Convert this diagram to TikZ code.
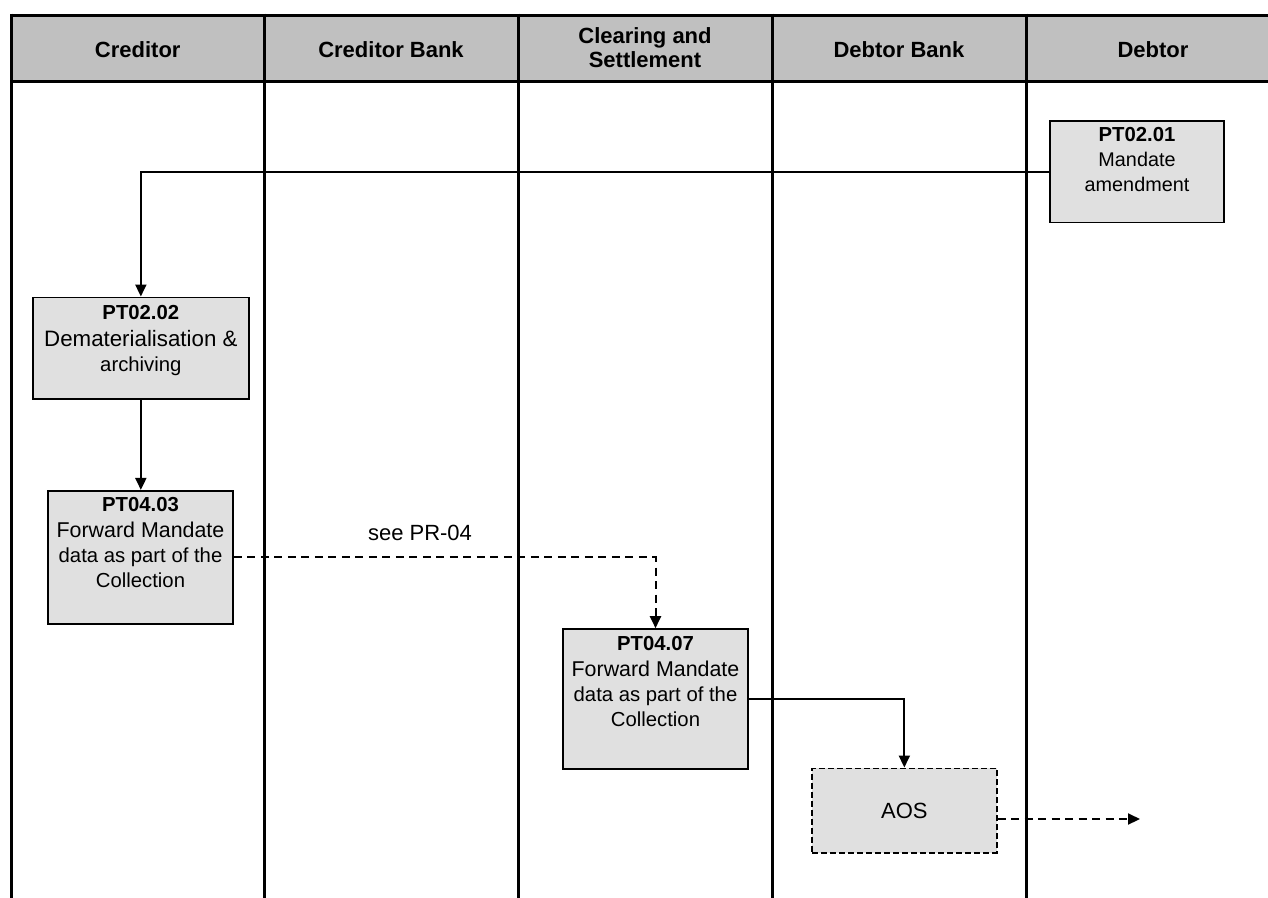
\documentclass[tikz,border=0pt]{standalone}
\usepackage{fontspec}
\setmainfont{Liberation Sans}
\usetikzlibrary{arrows.meta}
\definecolor{hdrgray}{HTML}{C0C0C0}
\definecolor{boxgray}{HTML}{E0E0E0}
\tikzset{
  lane/.style={line width=3pt},
  hdrtext/.style={font=\fontsize{22}{24}\selectfont\bfseries, align=center, inner sep=0pt},
  stepbox/.style={draw, fill=boxgray, line width=1.6pt, rectangle, inner sep=0pt},
  boxtext/.style={anchor=north, inner sep=0pt, align=center, font=\fontsize{20.3}{25}\selectfont},
  arr/.style={line width=2pt, -{Triangle[length=12pt,width=11pt]}},
  dasharr/.style={arr, dash pattern=on 8pt off 5.5pt},
}
\begin{document}
\begin{tikzpicture}[x=1pt,y=-1pt]
\useasboundingbox (0,0) rectangle (1268,897);
\clip (0,0) rectangle (1268,897);
% header
\fill[hdrgray] (11,15) rectangle (1290,81);
\draw[lane] (11,15) -- (1290,15);
\draw[lane] (11,81) -- (1290,81);
\foreach \x in {11,264.5,518,772,1026} \draw[lane] (\x,13.5) -- (\x,900);
\node[hdrtext] (h1) at (137.75,49.5) {Creditor};
\node[hdrtext] (h2) at (391,49.5) {Creditor Bank};
\node[hdrtext] (h3) at (645,48) {Clearing and\\Settlement};
\node[hdrtext] (h4) at (899,49.5) {Debtor Bank};
\node[hdrtext] (h5) at (1153,49.5) {Debtor};
% boxes
\node[stepbox, minimum width=174pt, minimum height=101.6pt,
  label={[boxtext, yshift=-7pt]north:{\textbf{PT02.01}\\{\fontsize{19.8}{25}\selectfont Mandate}\\{\fontsize{19.8}{25}\selectfont amendment}}}]
  (pt0201) at (1137,171.5) {};
\node[stepbox, minimum width=216.3pt, minimum height=101.7pt,
  label={[boxtext, yshift=-8.4pt]north:{\textbf{PT02.02}\\[2pt]{\fontsize{22.3}{25}\selectfont Dematerialisation \&}\\archiving}}]
  (pt0202) at (140.85,348.15) {};
\node[stepbox, minimum width=185pt, minimum height=133.3pt,
  label={[boxtext, yshift=-7.7pt]north:{\textbf{PT04.03}\\[1pt]{\fontsize{21.4}{25}\selectfont Forward Mandate}\\data as part of the\\Collection}}]
  (pt0403) at (140.5,557.35) {};
\node[stepbox, minimum width=185pt, minimum height=140pt,
  label={[boxtext, yshift=-7.7pt]north:{\textbf{PT04.07}\\[1pt]{\fontsize{21.4}{25}\selectfont Forward Mandate}\\data as part of the\\Collection}}]
  (pt0407) at (655.5,699) {};
\node[stepbox, dash pattern=on 6pt off 3pt, minimum width=184.7pt, minimum height=84.4pt,
  font=\fontsize{22}{25}\selectfont]
  (aos) at (904.35,810.5) {AOS};
% connectors
\draw[arr] (pt0201.west) -| (pt0202.north);
\draw[arr] (pt0202.south) -- (pt0202.south |- pt0403.north);
\draw[dasharr] (pt0403.east) -| (pt0407.north);
\node[inner sep=0pt, font=\fontsize{22}{25}\selectfont] (see) at (420,533) {see PR-04};
\draw[arr] (pt0407.east) -| (aos.north);
\coordinate (aosout) at (1140,819);
\draw[dasharr] ([yshift=-8.5pt]aos.east) -- (aosout);
\end{tikzpicture}
\end{document}
